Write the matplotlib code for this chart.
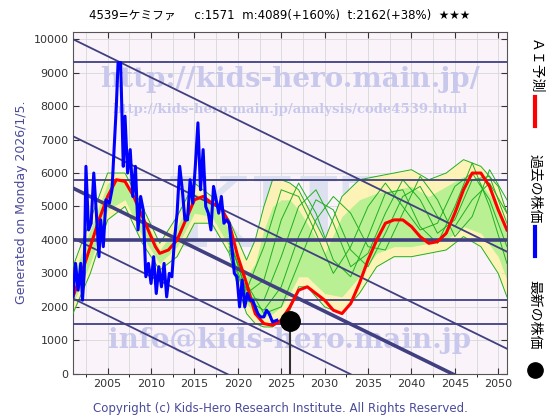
import matplotlib
matplotlib.use('Agg')
import matplotlib.pyplot as plt
import numpy as np

plt.rcParams['font.family'] = ['DejaVu Sans', 'Noto Sans CJK JP']

# ---- data ----
blue_x = [2001.0, 2001.3, 2001.6, 2001.9, 2002.1, 2002.3, 2002.5, 2002.8, 2003.1, 2003.4, 2003.7, 2004.0,
          2004.2, 2004.5, 2004.8, 2005.2, 2005.5, 2005.8, 2006.0, 2006.2, 2006.5, 2006.8, 2007.0, 2007.3,
          2007.6, 2007.9, 2008.2, 2008.5, 2008.8, 2009.1, 2009.4, 2009.7, 2010.0, 2010.3, 2010.6, 2010.9,
          2011.2, 2011.5, 2011.8, 2012.1, 2012.4, 2012.7, 2013.0, 2013.3, 2013.6, 2013.9, 2014.2, 2014.5,
          2014.8, 2015.1, 2015.4, 2015.7, 2016.0, 2016.3, 2016.6, 2016.9, 2017.2, 2017.5, 2017.8, 2018.1,
          2018.4, 2018.7, 2019.0, 2019.3, 2019.6, 2019.9, 2020.2, 2020.5, 2020.8, 2021.1, 2021.4, 2021.7,
          2022.0, 2022.3, 2022.6, 2023.0, 2023.3, 2023.6, 2024.0, 2024.5]
blue_y = [2300, 3300, 2500, 3300, 2200, 3000, 6200, 4300, 4500, 6000, 4800, 3500,
          4600, 3800, 5200, 5100, 5500, 7000, 8000, 9300, 9300, 6200, 7700, 6000,
          6700, 5300, 6200, 4300, 5300, 4900, 2900, 3300, 2700, 3500, 2400, 3200,
          2600, 3300, 2300, 3000, 2900, 4000, 4800, 6200, 5500, 4600, 4600, 5800,
          5100, 6200, 7500, 5500, 6700, 5000, 4800, 4300, 5600, 5200, 4800, 5300,
          4500, 4600, 4500, 3800, 3000, 2900, 2000, 2800, 2000, 2400, 2200, 2200,
          2000, 1800, 1700, 1700, 1900, 1800, 1550, 1600]

red_x = [2001, 2002, 2003, 2004, 2005, 2006, 2007, 2008, 2009, 2010, 2010.5, 2011, 2012, 2013, 2014,
         2015, 2016, 2017, 2018, 2019, 2020, 2021, 2022, 2023, 2024, 2025, 2026, 2027, 2028, 2029,
         2030, 2031, 2032, 2033, 2034, 2035, 2036, 2037, 2038, 2039, 2040, 2041, 2042, 2043, 2044,
         2045, 2046, 2047, 2048, 2049, 2050, 2051]
red_y = [2300, 3000, 3800, 4600, 5300, 5800, 5750, 5300, 4700, 4100, 3800, 3600, 3700, 4000, 4600,
         5200, 5300, 5100, 5000, 4500, 3500, 2700, 1800, 1500, 1450, 1600, 2000, 2500, 2600, 2400,
         2200, 1900, 1800, 2100, 2700, 3400, 4000, 4500, 4600, 4600, 4400, 4100, 3900, 3950, 4200,
         4800, 5500, 6000, 6000, 5600, 4900, 4300]

band_x = [2001, 2003, 2005, 2007, 2009, 2011, 2013, 2015, 2017, 2019, 2020, 2021, 2022, 2023, 2024,
          2025, 2026, 2027, 2028, 2030, 2032, 2034, 2036, 2038, 2040, 2042, 2044, 2046, 2048, 2050, 2051]
outer_hi = [3200, 4600, 6000, 6000, 5000, 3900, 4700, 5700, 5300, 4600, 4000, 3400, 4000, 5000, 5800,
            5800, 5700, 5500, 5000, 4000, 5300, 5800, 5900, 6000, 6100, 5800, 6000, 6400, 6200, 5600, 4800]
outer_lo = [1800, 3000, 4600, 5000, 3900, 3100, 3500, 4500, 4500, 3600, 2600, 1800, 1500, 1400, 1400,
            1600, 1900, 2600, 2600, 2000, 1800, 2400, 3200, 3500, 3500, 3600, 3700, 4100, 3800, 3000, 2300]
inner_hi = [2900, 4300, 5700, 5800, 4800, 3700, 4400, 5400, 5100, 4300, 3600, 2900, 3300, 4300, 5000,
            5200, 5200, 4900, 4500, 3600, 4700, 5200, 5400, 5500, 5600, 5300, 5600, 5900, 5700, 5000, 4300]
inner_lo = [2100, 3300, 4900, 5200, 4100, 3300, 3800, 4800, 4700, 3800, 2900, 2100, 1800, 1700, 1800,
            2000, 2400, 2900, 2900, 2400, 2300, 2900, 3600, 3800, 3800, 3900, 4000, 4400, 4200, 3500, 2800]

# a few of the ensemble runs (future part)
ens_x = [2019, 2021, 2023, 2025, 2027, 2029, 2031, 2033, 2035, 2037, 2039, 2041, 2043, 2045, 2047, 2049, 2051]
ens_runs = [
    [4000, 2500, 3800, 5500, 5300, 4200, 3000, 3800, 5000, 5700, 5000, 4300, 4500, 5600, 6000, 5200, 3800],
    [3800, 2300, 2200, 3500, 5000, 5500, 4500, 3200, 3600, 4800, 5800, 5200, 4200, 4600, 5800, 5900, 4500],
    [3900, 2700, 1800, 2000, 3300, 4600, 5300, 4800, 3800, 3700, 4800, 5900, 5200, 4100, 4700, 6100, 5200],
    [4100, 2400, 2800, 4600, 5700, 4800, 3400, 2900, 4100, 5400, 5500, 4400, 3900, 5000, 6300, 5000, 3300],
    [3700, 2200, 1900, 2600, 4100, 5200, 4900, 3700, 3200, 4200, 5300, 5600, 4700, 4400, 5200, 5700, 4800],
]

hlines = [9330, 5780, 2210, 1485]
diag_start = [10000, 7100, 4050, 2250]   # value at 2001, slope per year below
diag_thick = 5550
slope = -127
latest_x, latest_y = 2026.0, 1580

# ---- figure ----
fig = plt.figure(figsize=(5.6, 4.2), dpi=100)
ax = fig.add_axes([0.131, 0.11, 0.775, 0.815])
ax.set_facecolor('#fbf3fa')
ax.set_xlim(2001.05, 2051.05)
ax.set_ylim(0, 10230)

# watermarks
wm = '#c8c8ec'
ax.text(2026, 4600, 'KHT', fontsize=70, color='#dde0ee', ha='center', va='center',
        family='DejaVu Serif', fontweight='bold', zorder=1, clip_on=True)
ax.text(2026, 8800, 'http://kids-hero.main.jp/', fontsize=20, color=wm, ha='center', va='center',
        family='DejaVu Serif', fontweight='bold', zorder=1, clip_on=True)
ax.text(2026, 7900, 'http://kids-hero.main.jp/analysis/code4539.html', fontsize=9.5, color=wm,
        ha='center', va='center', family='DejaVu Serif', fontweight='bold', zorder=1, clip_on=True)
ax.text(2026, 1000, 'info@kids-hero.main.jp', fontsize=20, color=wm, ha='center', va='center',
        family='DejaVu Serif', fontweight='bold', zorder=1, clip_on=True)

ax.fill_between(band_x, outer_lo, outer_hi, color='#fff4b0', alpha=0.9, zorder=2, lw=0)
ax.fill_between(band_x, inner_lo, inner_hi, color='#a8f08a', alpha=0.8, zorder=2, lw=0)
for run in ens_runs:
    ax.plot(ens_x, run, color='#20b020', lw=0.7, zorder=3)
ax.plot(band_x, outer_hi, color='#20b020', lw=0.7, zorder=3)
ax.plot(band_x, outer_lo, color='#20b020', lw=0.7, zorder=3)

for h in hlines:
    ax.axhline(h, color='#404080', lw=1.3, zorder=4)
ax.axhline(4000, color='#404080', lw=2.6, zorder=4)
xs = np.array([2001, 2052])
for s in diag_start:
    ax.plot(xs, s + slope * (xs - 2001), color='#404080', lw=1.3, zorder=4)
ax.plot(xs, diag_thick + slope * (xs - 2001), color='#404080', lw=2.6, zorder=4)

ax.plot(red_x, red_y, color='#ff0000', lw=2.2, zorder=5)
ax.plot(blue_x, blue_y, color='#202060', lw=0.8, zorder=5)
ax.plot(blue_x, blue_y, color='#0000ff', lw=2.2, zorder=6)
ax.plot([latest_x, latest_x], [0, latest_y], color='#303030', lw=1.5, zorder=6)
ax.plot(latest_x, latest_y, 'o', color='black', ms=14, zorder=7)

ax.set_xticks(range(2005, 2051, 5))
ax.set_yticks(range(0, 10001, 1000))
ax.set_xticks(np.arange(2002.5, 2051, 2.5), minor=True)
ax.grid(True, which='both', color='#d8d8d8', lw=0.6, zorder=0)
ax.set_axisbelow(True)
ax.tick_params(labelsize=8, direction='in', length=4, top=True, right=True, colors='#333333')
for sp in ax.spines.values():
    sp.set_color('#555555')

ax.set_ylabel('Generated on Monday 2026/1/5.', color='#4a4a9a', fontsize=9)
fig.text(0.5, 0.955, '4539=ケミファ     c:1571  m:4089(+160%)  t:2162(+38%)  ★★★',
         ha='center', fontsize=8.5)
fig.text(0.5, 0.02, 'Copyright (c) Kids-Hero Research Institute. All Rights Reserved.',
         ha='center', fontsize=8.5, color='#4a4a9a')

# right-side legend
jp = ['Noto Sans CJK JP', 'DejaVu Sans']
fig.text(0.955, 0.84, 'ＡＩ予測', rotation=270, family=jp, fontsize=10, va='center', ha='center')
fig.add_artist(plt.Line2D([0.955, 0.955], [0.70, 0.77], color='red', lw=3))
fig.text(0.955, 0.55, '過去の株価', rotation=270, family=jp, fontsize=10, va='center', ha='center')
fig.add_artist(plt.Line2D([0.955, 0.955], [0.39, 0.46], color='blue', lw=3))
fig.text(0.955, 0.25, '最新の株価', rotation=270, family=jp, fontsize=10, va='center', ha='center')
fig.add_artist(plt.Line2D([0.955], [0.12], marker='o', color='black', ms=11))

fig.savefig('out.png', dpi=100)
